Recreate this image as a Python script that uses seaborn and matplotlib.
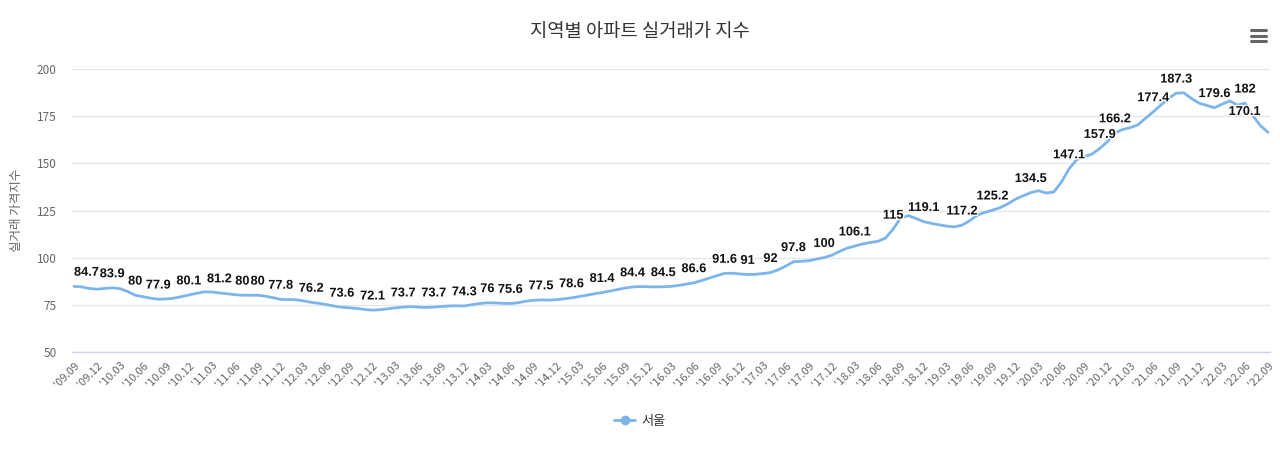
import numpy as np
import pandas as pd
import matplotlib
matplotlib.use("Agg")
import matplotlib.pyplot as plt
import matplotlib.patheffects as pe
from matplotlib.lines import Line2D
import seaborn as sns

# =========================
# DATA (monthly, '09.09 ~ '22.09)
# =========================

months = [p.strftime("'%y.%m") for p in pd.period_range("2009-09", "2022-09", freq="M")]

seoul = [
    84.7, 84.4, 83.6, 83.2, 83.6, 83.9, 83.5, 82.0, 80.0, 79.2,
    78.4, 77.9, 78.0, 78.4, 79.2, 80.1, 81.0, 81.8, 81.7, 81.2,
    80.8, 80.3, 80.0, 80.0, 80.0, 79.5, 78.7, 77.8, 77.7, 77.6,
    77.0, 76.2, 75.7, 75.0, 74.2, 73.6, 73.3, 73.0, 72.4, 72.1,
    72.3, 72.8, 73.3, 73.7, 73.9, 73.7, 73.5, 73.7, 74.0, 74.3,
    74.4, 74.3, 75.0, 75.6, 76.0, 75.9, 75.7, 75.6, 76.0, 76.8,
    77.3, 77.5, 77.4, 77.6, 78.1, 78.6, 79.3, 80.0, 80.8, 81.4,
    82.2, 83.0, 83.8, 84.4, 84.6, 84.5, 84.4, 84.5, 84.7, 85.2,
    85.9, 86.6, 87.8, 89.1, 90.4, 91.6, 91.7, 91.3, 91.0, 91.1,
    91.5, 92.0, 93.5, 95.5, 97.8, 98.0, 98.3, 99.2, 100.0, 101.2,
    103.2, 105.0, 106.1, 107.2, 108.0, 108.6, 110.3, 115.0, 121.0, 122.3,
    120.8, 119.1, 118.2, 117.4, 116.7, 116.3, 117.2, 119.5, 122.5, 124.0,
    125.2, 126.5, 128.5, 131.0, 132.8, 134.5, 135.5, 134.3, 134.8, 140.0,
    147.1, 152.0, 153.5, 155.0, 157.9, 161.5, 166.2, 168.0, 169.0, 170.5,
    174.0, 177.4, 181.0, 184.5, 187.3, 187.5, 184.5, 182.0, 180.8, 179.6,
    181.5, 183.2, 181.0, 182.0, 175.5, 170.1, 166.5,
]

# months whose data label is visible in the chart
labeled_months = [
    "'09.09", "'10.02", "'10.05", "'10.08", "'10.12", "'11.04", "'11.07",
    "'11.09", "'11.12", "'12.04", "'12.08", "'12.12", "'13.04", "'13.08",
    "'13.12", "'14.03", "'14.06", "'14.10", "'15.02", "'15.06", "'15.10",
    "'16.02", "'16.06", "'16.10", "'17.01", "'17.04", "'17.07", "'17.11",
    "'18.03", "'18.08", "'18.12", "'19.05", "'19.09", "'20.02", "'20.07",
    "'20.11", "'21.01", "'21.06", "'21.09", "'22.02", "'22.06", "'22.08",
]

df = pd.DataFrame({"month": months, "value": seoul})
df["pos"] = np.arange(len(df))

# =========================
# STYLE
# =========================

sns.set_theme(style="white")
plt.rcParams["font.family"] = ["Noto Sans CJK KR", "DejaVu Sans"]

LINE = "#7cb5ec"
GRID = "#e6e6e6"
TXT = "#666666"

fig = plt.figure(figsize=(12.8, 4.54), dpi=100)
ax = fig.add_axes([72 / 1280, 1 - 351.7 / 454, 1198 / 1280, 282.4 / 454])

sns.lineplot(data=df, x="pos", y="value", ax=ax, color=LINE, linewidth=2, legend=False)

ax.set_xlim(-0.26, len(df) - 1 + 0.26)
ax.set_ylim(50, 200)
ax.set_yticks([50, 75, 100, 125, 150, 175, 200])
ax.set_xticks(df["pos"][::3])
ax.set_xticklabels(df["month"][::3], rotation=45, ha="right", va="top",
                   rotation_mode="anchor", fontsize=8, color=TXT)
ax.tick_params(axis="x", length=0, pad=6)
ax.tick_params(axis="y", length=0, pad=11, labelsize=8.5, labelcolor=TXT)
ax.set_xlabel("")
ax.set_ylabel("")
ax.grid(axis="y", color=GRID, linewidth=1)
ax.grid(axis="x", visible=False)
for side in ["top", "right", "left"]:
    ax.spines[side].set_visible(False)
ax.spines["bottom"].set_color("#ccd6eb")
ax.spines["bottom"].set_linewidth(1)

# =========================
# DATA LABELS
# =========================

for i, m in enumerate(labeled_months):
    row = df[df["month"] == m].iloc[0]
    ha = "center"
    if i == 0:
        ha = "left"
    elif i == len(labeled_months) - 1:
        ha = "right"
    ax.annotate(f"{row['value']:g}", (row["pos"], row["value"]),
                xytext=(0, 5.5), textcoords="offset points",
                ha=ha, va="bottom", fontsize=9.2, fontweight="bold", color="#111111",
                family=["Liberation Sans", "DejaVu Sans"],
                path_effects=[pe.withStroke(linewidth=2, foreground="white")])

# =========================
# TITLE, AXIS TITLE, LEGEND
# =========================

fig.text(0.5, 1 - 32 / 454, "지역별 아파트 실거래가 지수", ha="center", va="center",
         fontsize=13.5, color="#333333")
fig.text(17 / 1280, 1 - 210 / 454, "실거래 가격지수", rotation=90, ha="center",
         va="center", fontsize=9, color=TXT)

handle = Line2D([], [], color=LINE, linewidth=2, marker="o", markersize=6)
fig.legend([handle], ["서울"], loc="center", bbox_to_anchor=(0.5, 1 - 421 / 454),
           frameon=False, handlelength=1.6, handletextpad=0.5,
           prop={"size": 9.5}, labelcolor="#333333")

# menu icon
for yy in (30, 35.5, 41):
    fig.add_artist(Line2D([1251 / 1280, 1266 / 1280], [1 - yy / 454] * 2,
                          color=TXT, linewidth=2.2, solid_capstyle="round"))

fig.savefig("out.png", dpi=100)
plt.close(fig)
